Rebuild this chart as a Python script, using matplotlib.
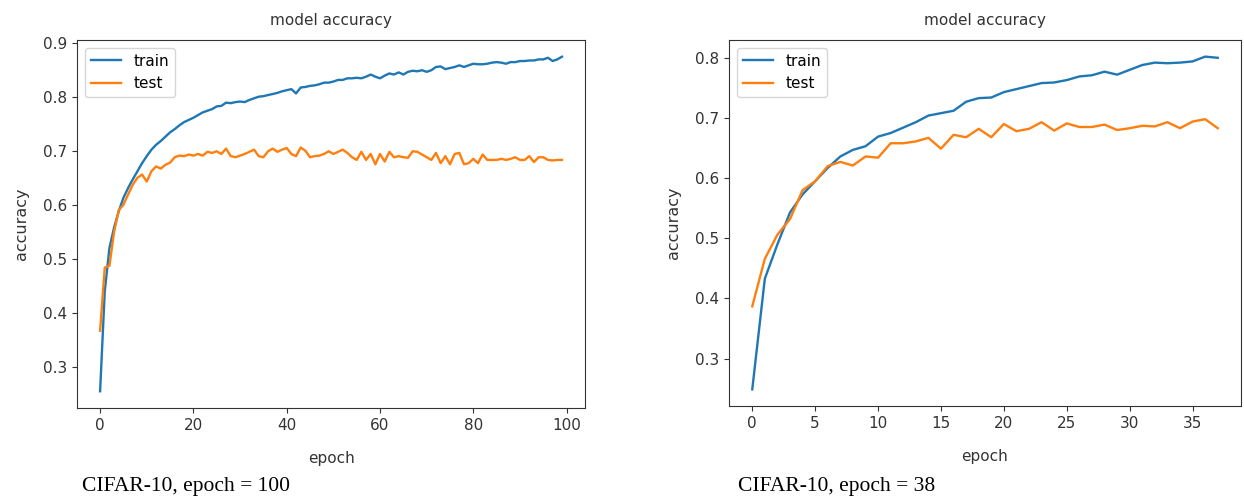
import matplotlib.pyplot as plt

# CIFAR-10, 100 epochs (left panel)
train_acc_100 = [0.255, 0.44, 0.52, 0.558, 0.588, 0.613, 0.631, 0.647, 0.662, 0.677,
                 0.69, 0.702, 0.711, 0.718, 0.726, 0.734, 0.74, 0.747, 0.753, 0.757,
                 0.761, 0.766, 0.771, 0.774, 0.777, 0.782, 0.783, 0.789, 0.788, 0.79,
                 0.791, 0.79, 0.794, 0.797, 0.8, 0.801, 0.803, 0.805, 0.807, 0.81,
                 0.812, 0.814, 0.806, 0.817, 0.818, 0.82, 0.821, 0.823, 0.826, 0.826,
                 0.828, 0.831, 0.831, 0.834, 0.834, 0.835, 0.834, 0.837, 0.841, 0.837,
                 0.834, 0.839, 0.843, 0.841, 0.845, 0.841, 0.846, 0.848, 0.847, 0.849,
                 0.846, 0.849, 0.855, 0.856, 0.851, 0.853, 0.855, 0.858, 0.855, 0.858,
                 0.861, 0.86, 0.86, 0.861, 0.863, 0.864, 0.863, 0.861, 0.864, 0.864,
                 0.866, 0.866, 0.867, 0.867, 0.869, 0.869, 0.872, 0.866, 0.869, 0.874]
test_acc_100 = [0.367, 0.484, 0.487, 0.55, 0.59, 0.60, 0.619, 0.637, 0.65, 0.656,
                0.643, 0.662, 0.671, 0.667, 0.674, 0.678, 0.688, 0.691, 0.69, 0.693,
                0.691, 0.694, 0.691, 0.698, 0.696, 0.699, 0.694, 0.704, 0.69, 0.688,
                0.691, 0.694, 0.698, 0.702, 0.69, 0.688, 0.699, 0.704, 0.698, 0.702,
                0.705, 0.694, 0.69, 0.706, 0.70, 0.688, 0.69, 0.691, 0.694, 0.699,
                0.694, 0.698, 0.702, 0.696, 0.688, 0.683, 0.698, 0.683, 0.694, 0.675,
                0.694, 0.68, 0.698, 0.688, 0.69, 0.688, 0.687, 0.699, 0.698, 0.693,
                0.688, 0.683, 0.696, 0.677, 0.69, 0.675, 0.694, 0.696, 0.675, 0.677,
                0.685, 0.677, 0.693, 0.683, 0.683, 0.683, 0.685, 0.683, 0.685, 0.688,
                0.683, 0.683, 0.69, 0.679, 0.688, 0.688, 0.683, 0.682, 0.683, 0.683]

# CIFAR-10, 38 epochs (right panel)
train_acc_38 = [0.249, 0.433, 0.49, 0.543, 0.573, 0.595, 0.617, 0.636, 0.647, 0.653,
                0.669, 0.675, 0.684, 0.693, 0.704, 0.708, 0.712, 0.727, 0.733, 0.734,
                0.743, 0.748, 0.753, 0.758, 0.759, 0.763, 0.769, 0.771, 0.777, 0.772,
                0.78, 0.788, 0.792, 0.791, 0.792, 0.794, 0.802, 0.80]
test_acc_38 = [0.387, 0.466, 0.506, 0.532, 0.58, 0.595, 0.62, 0.627, 0.621, 0.636,
               0.634, 0.658, 0.658, 0.661, 0.667, 0.649, 0.672, 0.668, 0.682, 0.668,
               0.69, 0.678, 0.682, 0.693, 0.679, 0.691, 0.685, 0.685, 0.689, 0.68,
               0.683, 0.687, 0.686, 0.693, 0.683, 0.694, 0.698, 0.683]

captions = ['CIFAR-10, epoch = 100', 'CIFAR-10, epoch = 38']

fig = plt.figure(figsize=(12.44, 4.99), dpi=100)
ax1 = fig.add_axes([0.0619, 0.1824, 0.4084, 0.7375])
ax2 = fig.add_axes([0.586, 0.1864, 0.4116, 0.7335])

for ax, tr, te in [(ax1, train_acc_100, test_acc_100), (ax2, train_acc_38, test_acc_38)]:
    ax.plot(range(len(tr)), tr, color='#1f77b4', lw=1.7, label='train')
    ax.plot(range(len(te)), te, color='#ff7f0e', lw=1.7, label='test')
    ax.set_title('model accuracy', fontsize=11, pad=11, color='#333333')
    ax.set_xlabel('epoch', fontsize=11, labelpad=13, color='#333333')
    ax.set_ylabel('accuracy', fontsize=11.5, labelpad=10, color='#333333')
    ax.tick_params(labelsize=11, labelcolor='#333333', color='#333333')
    ax.legend(loc='upper left', fontsize=11)
    for s in ax.spines.values():
        s.set_color('#333333')

ax2.set_xticks(range(0, 40, 5))

# captions under each panel
fig.text(82 / 1244, 1 - 487 / 499, captions[0], family='Liberation Serif',
         fontsize=15.5, va='center', ha='left')
fig.text(738 / 1244, 1 - 487 / 499, captions[1], family='Liberation Serif',
         fontsize=15.5, va='center', ha='left')

fig.savefig('out.png', dpi=100)
